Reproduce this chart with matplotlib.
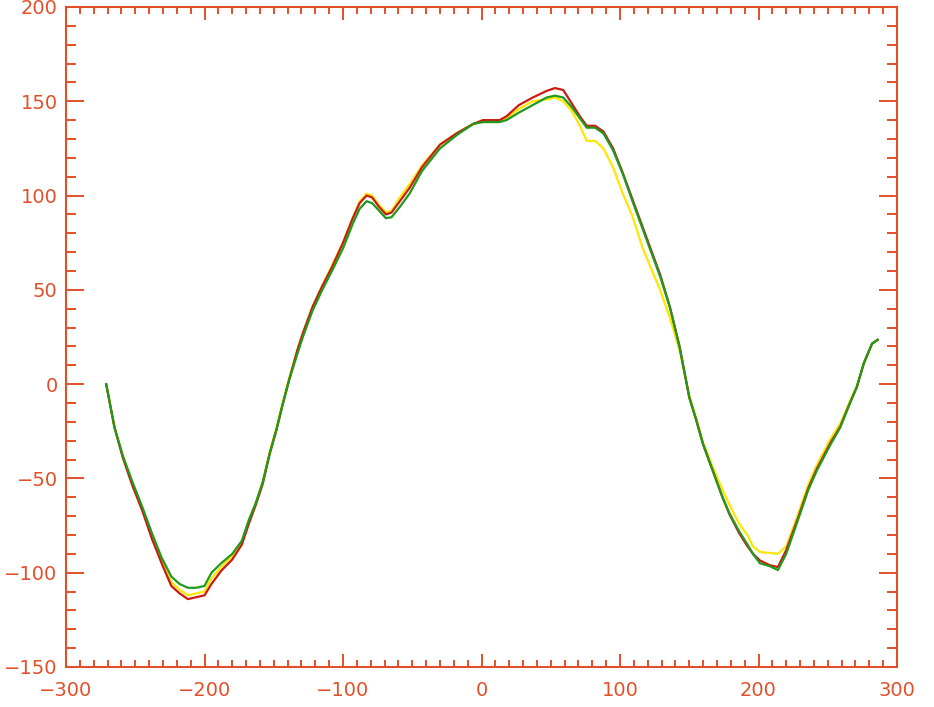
import matplotlib
matplotlib.use("Agg")
import matplotlib.pyplot as plt
from matplotlib.ticker import MultipleLocator

AXIS_COLOR = "#e2502a"

# sample positions shared by the three curves
X = [
    -271, -265, -259, -252, -245, -238, -231, -224, -218, -212, -206, -200,
    -195, -188, -180, -173, -168, -163, -158, -153, -148, -144, -139, -133,
    -129, -122, -115, -108, -100, -93, -88, -83, -79, -74, -69, -65, -59,
    -52, -43, -30, -18, -6, 1, 13, 18, 27, 37, 47, 53, 59, 65, 71, 76, 82,
    88, 95, 102, 109, 116, 122, 129, 136, 143, 150, 155, 160, 167, 174, 179,
    186, 192, 196, 201, 208, 214, 220, 228, 236, 242, 252, 259, 266, 271,
    276, 282, 286,
]

GREEN = [
    0, -23, -38, -52, -65, -79, -92, -102, -106, -108, -108, -107,
    -100, -95, -90, -83, -72, -63, -52, -37, -24, -12, 2, 16,
    25, 39, 50, 60, 72, 85, 93, 97, 96, 92, 88, 88.5, 94,
    101, 113, 125, 132, 138, 139, 139, 140, 144, 148, 152, 153, 152, 147, 141, 136, 136,
    133, 124, 111.5, 97, 83, 71, 57, 40.7, 19.6, -7, -19, -32, -46, -60, -68.5,
    -78, -85, -90, -95, -96.5, -98.6, -90, -73, -56, -46, -32, -23, -10, -1.5,
    11, 21.5, 23.5,
]

RED = [
    0, -23, -39, -54, -67, -82, -95, -107, -111, -114, -113, -112,
    -106, -99, -93, -85, -74, -64, -53, -37, -24, -12, 2, 18,
    27, 41, 52, 62, 75, 88, 96, 100, 99, 94, 90, 91, 97,
    104, 115, 127, 133, 138, 140, 140, 142, 148, 152, 155.5, 157, 156, 149, 142, 137, 137,
    134, 125, 112, 98, 84, 72, 58, 41, 20, -7, -19, -32, -46, -60, -69,
    -79, -86, -90, -93.5, -96, -97, -88, -72, -55, -45, -31, -22.5, -10, -1.5,
    11, 21.5, 23.5,
]

YELLOW = [
    0, -23, -38, -53, -66, -80, -93, -105, -109, -112, -111, -110,
    -103, -97, -91, -84, -73, -63, -52, -36, -23, -11, 3, 18,
    27, 41, 52, 63, 75, 88, 97, 101, 100, 95, 91, 92, 99,
    106, 116, 127, 133, 138, 139, 139, 141, 146, 150, 151, 152, 150, 145, 137, 129, 129,
    125, 115, 101, 89, 73, 62, 50, 35, 18, -6, -18, -31, -44, -56, -64,
    -74, -80, -86, -89, -89.5, -90, -86, -70, -53, -43, -29, -21, -9, -1,
    11, 21.5, 23.5,
]


def main() -> None:
    fig = plt.figure(figsize=(9.34, 7.07), dpi=100)
    ax = fig.add_axes([0.0707, 0.0566, 0.8897, 0.9335])

    ax.plot(X, YELLOW, color="#ffe600", linewidth=1.6)
    ax.plot(X, RED, color="#cc1a10", linewidth=1.6)
    ax.plot(X, GREEN, color="#1e9a1e", linewidth=1.6)

    ax.set_xlim(-300, 300)
    ax.set_ylim(-150, 200)
    ax.xaxis.set_major_locator(MultipleLocator(100))
    ax.xaxis.set_minor_locator(MultipleLocator(10))
    ax.yaxis.set_major_locator(MultipleLocator(50))
    ax.yaxis.set_minor_locator(MultipleLocator(10))

    for spine in ax.spines.values():
        spine.set_color(AXIS_COLOR)
        spine.set_linewidth(1.5)

    ax.tick_params(axis="both", which="both", direction="in", colors=AXIS_COLOR,
                   width=1.4, top=True, right=True, labelsize=14)
    ax.tick_params(axis="x", which="major", length=9.5, pad=10)
    ax.tick_params(axis="x", which="minor", length=5)
    ax.tick_params(axis="y", which="major", length=13, pad=6)
    ax.tick_params(axis="y", which="minor", length=7)

    fig.savefig("out.png", dpi=100)
    plt.close(fig)


if __name__ == "__main__":
    main()
